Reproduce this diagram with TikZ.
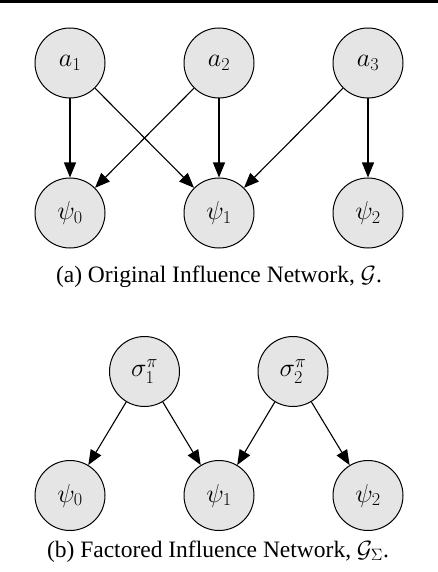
\RequirePackage{fix-cm}
\documentclass[tikz,border=0pt]{standalone}
\usepackage[no-math]{fontspec}
\setmainfont{Liberation Serif}
\usetikzlibrary{arrows.meta}
\begin{document}
\begin{tikzpicture}[x=1pt,y=-1pt,
  var/.style={circle,draw=black,line width=1pt,fill=black!10,minimum size=70pt,inner sep=0pt,font=\fontsize{26}{30}\selectfont},
  arr/.style={line width=1.1pt,-{Triangle[length=15pt,width=12pt]}},
  captext/.style={anchor=base,font=\fontsize{23.5}{28}\selectfont,inner sep=0pt}]
\useasboundingbox (0,0) rectangle (438,572);
\fill[black] (0,0) rectangle (438,3);
% (a)
\node[var] (a1) at (70,63) {$a_1$};
\node[var] (a2) at (219,63) {$a_2$};
\node[var] (a3) at (368,63) {$a_3$};
\node[var] (p0) at (70,213) {$\psi_0$};
\node[var] (p1) at (219,213) {$\psi_1$};
\node[var] (p2) at (368,213) {$\psi_2$};
\draw[arr] (a1) -- (p0);
\draw[arr] (a1) -- (p1);
\draw[arr] (a2) -- (p0);
\draw[arr] (a2) -- (p1);
\draw[arr] (a3) -- (p1);
\draw[arr] (a3) -- (p2);
\node[captext] (capa) at (219,282) {(a) Original Influence Network, $\mathcal{G}$.};
% (b)
\node[var] (s1) at (144.5,371.5) {$\sigma_1^\pi$};
\node[var] (s2) at (293,371.5) {$\sigma_2^\pi$};
\node[var] (q0) at (70,495.5) {$\psi_0$};
\node[var] (q1) at (219,495.5) {$\psi_1$};
\node[var] (q2) at (368,495.5) {$\psi_2$};
\draw[arr] (s1) -- (q0);
\draw[arr] (s1) -- (q1);
\draw[arr] (s2) -- (q1);
\draw[arr] (s2) -- (q2);
\node[captext] (capb) at (218,557) {(b) Factored Influence Network, $\mathcal{G}_\Sigma$.};
\end{tikzpicture}
\end{document}
